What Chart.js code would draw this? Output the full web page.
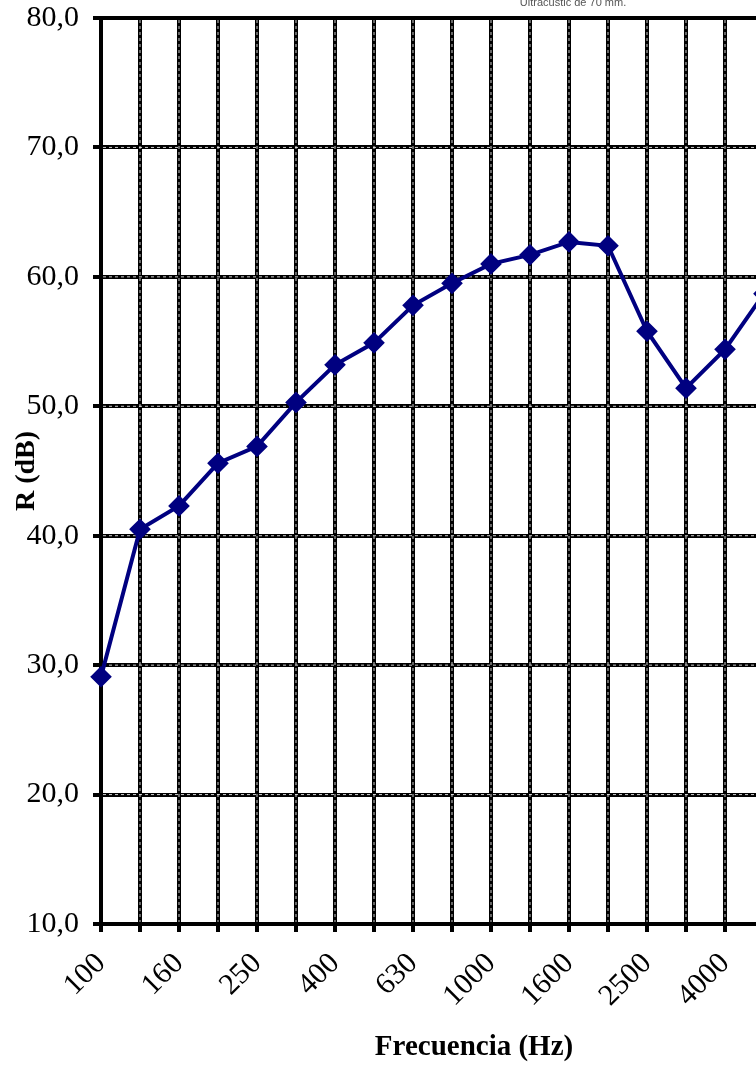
<!DOCTYPE html>
<html>
<head>
<meta charset="utf-8">
<script src="https://cdn.jsdelivr.net/npm/chart.js@4"></script>
<style>
  html, body { margin:0; padding:0; background:#fff; overflow:hidden; }
  #wrap { width:756px; height:1068px; overflow:hidden; position:relative; }
  #box { width:776px; height:1068px; }
</style>
</head>
<body>
<div id="wrap"><div id="box"><canvas id="chart"></canvas></div></div>
<script>
// Datos (bandas de tercio de octava)
const frecuencias = ['100','125','160','200','250','315','400','500','630','800','1000','1250','1600','2000','2500','3150','4000','5000'];
const aislamiento = [29.1, 40.5, 42.3, 45.6, 46.9, 50.3, 53.2, 54.9, 57.8, 59.5, 61.0, 61.7, 62.7, 62.4, 55.8, 51.4, 54.4, 58.7];
const yTicks = { min: 10, max: 80, step: 10 };

const serif = '"Liberation Serif", "Times New Roman", serif';

// lineas blancas punteadas sobre la rejilla + textos sueltos
const extras = {
  id: 'extras',
  beforeDatasetsDraw(chart) {
    const { ctx, chartArea, scales } = chart;
    ctx.save();
    ctx.strokeStyle = 'rgba(255,255,255,0.8)';
    ctx.lineWidth = 1;
    ctx.setLineDash([3, 3]);
    scales.x.ticks.forEach((t, i) => {
      if (i === 0) return;
      const x = scales.x.getPixelForTick(i);
      ctx.beginPath(); ctx.moveTo(x, chartArea.top + 2); ctx.lineTo(x, chartArea.bottom - 2); ctx.stroke();
    });
    scales.y.ticks.forEach((t, i) => {
      if (t.value === yTicks.min || t.value === yTicks.max) return;
      const y = scales.y.getPixelForTick(i);
      ctx.beginPath(); ctx.moveTo(chartArea.left + 2, y); ctx.lineTo(chartArea.right, y); ctx.stroke();
    });
    ctx.restore();
  },
  afterDraw(chart) {
    const { ctx } = chart;
    ctx.save();
    ctx.fillStyle = '#555';
    ctx.font = '11px "Liberation Sans", Arial, sans-serif';
    ctx.textAlign = 'center';
    ctx.textBaseline = 'alphabetic';
    ctx.fillText('Ultracustic de 70 mm.', 573, 6);
    ctx.fillStyle = '#000';
    ctx.font = 'bold 29px ' + serif;
    ctx.textBaseline = 'middle';
    ctx.fillText('Frecuencia (Hz)', 474, 1048);
    ctx.restore();
  }
};

new Chart(document.getElementById('chart'), {
  type: 'line',
  data: {
    labels: frecuencias,
    datasets: [{
      label: 'R',
      data: aislamiento,
      borderColor: '#000080',
      backgroundColor: '#000080',
      borderWidth: 4,
      pointStyle: 'rectRot',
      pointRadius: 8,
      pointHoverRadius: 8,
      tension: 0,
      fill: false
    }]
  },
  options: {
    responsive: true,
    maintainAspectRatio: false,
    animation: false,
    layout: { padding: { top: 18, right: 8, bottom: 0, left: 0 } },
    plugins: { legend: { display: false }, tooltip: { enabled: false } },
    scales: {
      x: {
        offset: false,
        afterFit: s => { s.height = 144; s.paddingLeft = 0; s.paddingRight = 0; },
        grid: { color: '#000', lineWidth: 4, tickLength: 8, drawTicks: true },
        border: { color: '#000', width: 4 },
        ticks: {
          autoSkip: false,
          maxRotation: 45, minRotation: 45,
          padding: 14,
          color: '#000',
          font: { family: serif, size: 30 },
          callback: (v, i) => i % 2 === 0 ? frecuencias[i] : ''
        }
      },
      y: {
        min: yTicks.min, max: yTicks.max,
        afterFit: s => { s.width = 101; s.paddingTop = 0; s.paddingBottom = 0; },
        grid: { color: '#000', lineWidth: 4, tickLength: 8 },
        border: { color: '#000', width: 4 },
        ticks: {
          stepSize: yTicks.step,
          padding: 14,
          color: '#000',
          font: { family: serif, size: 30 },
          callback: v => v.toFixed(1).replace('.', ',')
        },
        title: {
          display: true,
          text: 'R (dB)',
          color: '#000',
          font: { family: serif, size: 28, weight: 'bold' },
          padding: { top: 10, bottom: 0 }
        }
      }
    }
  },
  plugins: [extras]
});
</script>
</body>
</html>
